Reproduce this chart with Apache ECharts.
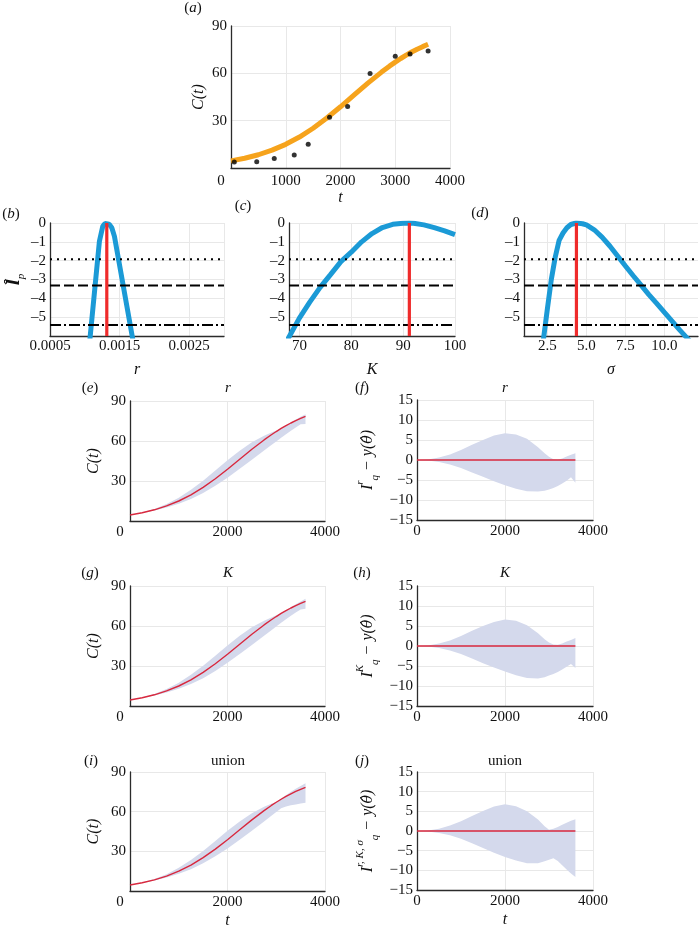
<!DOCTYPE html>
<html><head><meta charset="utf-8">
<script src="https://cdn.jsdelivr.net/npm/echarts@6/dist/echarts.min.js"></script>
<style>html,body{margin:0;padding:0;background:#fff}#c{width:699px;height:930px}</style>
</head><body><div id="c"></div><script>
// ---------------- data ----------------
const obsT = [60, 470, 790, 1155, 1410, 1800, 2130, 2540, 3000, 3270, 3600];
const obsC = [3.8, 4.0, 6.1, 8.2, 15.1, 32.2, 38.9, 59.9, 70.9, 72.3, 74.2];
const tGrid = [0,250,500,750,1000,1250,1500,1750,2000,2250,2500,2750,2900,3000,3100,3200,3300,3400,3500,3600];
const mleCurve = [4.5,6.2,8.4,11.3,15.0,19.6,25.2,31.7,38.8,46.3,53.8,60.8,64.7,67.1,69.4,71.5,73.5,75.3,76.9,78.4];
// prediction-interval bands, relative to the MLE curve
const rBandUpper = [0,0.15,0.6,1.4,2.5,3.8,5.0,6.1,6.7,6.4,5.3,3.2,1.7,0.8,0.2,0.05,0.4,0.9,1.3,1.7];
const rBandLower = [0,-0.1,-0.5,-1.1,-2.0,-3.1,-4.2,-5.3,-6.3,-7.2,-7.8,-7.9,-7.7,-7.4,-7.0,-6.5,-5.9,-5.2,-4.3,-5.7];
const kBandUpper = [0,0.15,0.6,1.4,2.5,3.8,5.0,6.0,6.6,6.3,5.2,3.2,1.7,0.9,0.35,0.3,0.6,1.1,1.5,2.0];
const kBandLower = [0,-0.1,-0.5,-1.1,-2.0,-3.1,-4.3,-5.4,-6.4,-7.3,-8.0,-8.1,-7.8,-7.4,-7.0,-6.5,-5.9,-5.2,-4.5,-5.5];
const uBandUpper = [0,0.15,0.6,1.4,2.5,3.8,5.1,6.2,6.8,6.3,5.0,2.9,1.2,0.3,0.6,1.0,1.6,2.1,2.6,3.0];
const uBandLower = [0,-0.1,-0.5,-1.1,-2.0,-3.1,-4.3,-5.5,-6.6,-7.5,-8.2,-8.2,-7.7,-7.3,-6.9,-7.6,-8.7,-9.8,-10.8,-11.7];
// profile likelihoods
const profRx = [0.00107,0.00121,0.001258,0.001290,0.001316,0.001350,0.001388,0.001426,0.001700];
const profRy = [-6.3,-0.97,-0.18,-0.03,0,-0.06,-0.25,-0.71,-6.4];
const profKx = [67,68,70,72,74,76,78,80,82,84,86,88,90,91.2,92,94,96,98,100];
const profKy = [-6.6,-6.05,-5.05,-4.2,-3.42,-2.74,-2.05,-1.55,-1.0,-0.56,-0.24,-0.07,-0.01,0,-0.01,-0.1,-0.25,-0.42,-0.62];
const profSx = [2.2,2.25,2.5,2.75,3.0,3.25,3.5,3.75,4.0,4.35,4.75,5.0,5.5,6.0,6.5,7.0,7.5,8.0,8.5,9.0,9.5,10.0,10.5,11.0,11.5,12.0];
const profSy = [-6.7,-6.15,-4.55,-3.0,-1.82,-0.92,-0.53,-0.25,-0.08,0,-0.04,-0.1,-0.36,-0.75,-1.22,-1.75,-2.28,-2.8,-3.3,-3.8,-4.27,-4.75,-5.22,-5.7,-6.15,-6.6];
const mleR = 0.001316, mleK = 91.2, mleSigma = 4.36;
const thresholds = [-1.92, -3.32, -5.41];
const tickK = [70, 80, 90, 100];
const tickS = [2.5, 5.0, 7.5, 10.0];

// ---------------- style ----------------
const FONT = '"Liberation Serif","DejaVu Serif",serif';
const TXT = '#111';
const BAND = '#d4d9ec';
const RED_LINE = '#d8283e';
const RED_MLE = '#ef2b2b';
const BLUE = '#1b9ad6';
const ORANGE = '#f6a31c';
const AXIS = '#2b2b2b';
const GRIDC = '#e8e8e8';

const grids = [
  {left:231, top:26, width:219, height:142},  // a
  {left:50,  top:223, width:174, height:113}, // b
  {left:289, top:223, width:166, height:113}, // c
  {left:524, top:223, width:174, height:113}, // d
  {left:130, top:401, width:195, height:120}, // e
  {left:417, top:400, width:176, height:120}, // f
  {left:130, top:586, width:195, height:120}, // g
  {left:417, top:586, width:176, height:120}, // h
  {left:130, top:772, width:195, height:119}, // i
  {left:417, top:772, width:176, height:118}  // j
];

function axis(gi, o) {
  const lbl = Object.assign({color:TXT, fontFamily:FONT, fontSize:15, margin:4, formatter: v => String(v)}, o.label || {});
  const a = {
    gridIndex: gi, type:'value', min:o.min, max:o.max,
    axisLine:{show:true, onZero:false, lineStyle:{color:AXIS, width:1.3}},
    axisTick:{show:false},
    splitLine:{show:true, lineStyle:{color:GRIDC, width:1}},
    axisLabel: lbl,
    name: o.name || '', nameLocation:'middle', nameGap: o.nameGap || 20,
    nameTextStyle: Object.assign({fontFamily:FONT, fontSize:16, color:TXT, fontStyle:'italic'}, o.nameStyle || {})
  };
  if (o.interval != null) a.interval = o.interval;
  if (o.custom) { a.axisTick.customValues = o.custom; a.axisLabel.customValues = o.custom; }
  return a;
}
const zeroShift = {
  formatter: v => v === 0 ? '{z|0}' : String(v),
  rich: {z: {padding:[0,20,0,0], fontFamily:FONT, fontSize:15, color:TXT}}
};
const minusFmt = v => String(v).replace('-', '\u2212');
const dashFmt = v => String(v).replace('-', '\u2013');
const noMin = (fmt) => ({formatter: fmt, showMinLabel:false});

const cName = {name:'C(t)', nameGap:28};
const resName = (sup) => ({
  name: '{I|I}{sup|' + sup + '}{sub|q}{n| \u2212 y(}{th|θ\u0302}{n|)}',
  nameGap: 36,
  nameStyle: {rich:{
    I:{fontFamily:FONT, fontSize:16, fontStyle:'italic', color:TXT, lineHeight:26},
    sup:{fontFamily:FONT, fontSize:11, fontStyle:'italic', color:TXT, lineHeight:13, verticalAlign:'top'},
    sub:{fontFamily:FONT, fontSize:11, fontStyle:'italic', color:TXT, lineHeight:13, verticalAlign:'bottom'},
    n:{fontFamily:FONT, fontSize:16, fontStyle:'italic', color:TXT, lineHeight:26},
    th:{fontFamily:'"DejaVu Serif",serif', fontSize:14, fontStyle:'italic', color:TXT, lineHeight:26}
  }}
});

const xAxes = [
  axis(0, {min:0, max:4000, interval:1000, label:Object.assign({margin:6}, zeroShift), name:'t', nameGap:22}),
  axis(1, {min:0.0005, max:0.003, interval:0.001, label:{formatter:v=>v.toFixed(4), margin:3}, name:'r', nameGap:26}),
  axis(2, {min:68, max:100, custom:tickK, label:{margin:3}, name:'K', nameGap:26}),
  axis(3, {min:1, max:12.15, custom:tickS, label:{formatter:v=>v.toFixed(1), margin:3}, name:'σ', nameGap:26}),
  axis(4, {min:0, max:4000, interval:2000, label:zeroShift}),
  axis(5, {min:0, max:4000, interval:2000}),
  axis(6, {min:0, max:4000, interval:2000, label:zeroShift}),
  axis(7, {min:0, max:4000, interval:2000}),
  axis(8, {min:0, max:4000, interval:2000, label:zeroShift, name:'t', nameGap:22}),
  axis(9, {min:0, max:4000, interval:2000, name:'t', nameGap:22})
];
const profYName = {
  name:'{l|l\u0302}{p|p}', nameGap:22,
  nameStyle:{rich:{
    l:{fontFamily:'"DejaVu Serif",serif', fontSize:16, fontStyle:'italic', fontWeight:'bold', color:TXT, lineHeight:24},
    p:{fontFamily:FONT, fontSize:11, fontStyle:'italic', color:TXT, lineHeight:12, verticalAlign:'bottom'}
  }}
};
const yAxes = [
  axis(0, Object.assign({min:0, max:90, interval:30, label:noMin(v=>String(v))}, cName, {nameGap:24})),
  axis(1, Object.assign({min:-6, max:0, interval:1, label:noMin(dashFmt)}, profYName)),
  axis(2, {min:-6, max:0, interval:1, label:noMin(dashFmt)}),
  axis(3, {min:-6, max:0, interval:1, label:noMin(dashFmt)}),
  axis(4, Object.assign({min:0, max:90, interval:30, label:noMin(v=>String(v))}, cName)),
  axis(5, Object.assign({min:-15, max:15, interval:5, label:{formatter:minusFmt}}, resName('r'))),
  axis(6, Object.assign({min:0, max:90, interval:30, label:noMin(v=>String(v))}, cName)),
  axis(7, Object.assign({min:-15, max:15, interval:5, label:{formatter:minusFmt}}, resName('K'))),
  axis(8, Object.assign({min:0, max:90, interval:30, label:noMin(v=>String(v))}, cName)),
  axis(9, Object.assign({min:-15, max:15, interval:5, label:{formatter:minusFmt}}, resName('r, K, σ')))
];

// ---------------- series ----------------
const zip = (xs, ys) => xs.map((x, i) => [x, ys[i]]);
function lineS(gi, data, color, width, z, type) {
  return {type:'line', xAxisIndex:gi, yAxisIndex:gi, data, showSymbol:false, symbol:'none',
    silent:true, clip:true, z: z || 2, animation:false,
    lineStyle:{color, width, type: type || 'solid', cap:'butt'}};
}
function bandS(gi, base, up, lo) {
  return {type:'custom', xAxisIndex:gi, yAxisIndex:gi, data:[[0,0]], clip:true, silent:true, z:1, animation:false,
    renderItem: (params, api) => {
      const pts = [];
      for (let i = 0; i < tGrid.length; i++) pts.push(api.coord([tGrid[i], base[i] + up[i]]));
      for (let i = tGrid.length - 1; i >= 0; i--) pts.push(api.coord([tGrid[i], base[i] + lo[i]]));
      return {type:'polygon', shape:{points:pts}, style:{fill:BAND}};
    }};
}
const zeroLine = mleCurve.map(v => v - v);
const series = [];
// (a)
series.push(lineS(0, zip(tGrid, mleCurve), ORANGE, 5, 2));
series.push({type:'scatter', xAxisIndex:0, yAxisIndex:0, data:zip(obsT, obsC), symbolSize:5,
  itemStyle:{color:'#000'}, z:3, silent:true, animation:false});
// profiles
const thrTypes = [[2,5], [10,4], [11,3,2,3]];
function profilePanel(gi, xs, ys, mle, xmin, xmax) {
  series.push(lineS(gi, zip(xs, ys), BLUE, 5, 2));
  thresholds.forEach((th, k) => series.push(lineS(gi, [[xmin, th], [xmax, th]], '#000', 2, 3, thrTypes[k])));
  series.push(lineS(gi, [[mle, -6], [mle, 0]], RED_MLE, 3.2, 4));
}
profilePanel(1, profRx, profRy, mleR, 0.0005, 0.003);
profilePanel(2, profKx, profKy, mleK, 68, 100);
profilePanel(3, profSx, profSy, mleSigma, 1, 12.15);
// bands
const bandSets = [[rBandUpper, rBandLower], [kBandUpper, kBandLower], [uBandUpper, uBandLower]];
bandSets.forEach((b, k) => {
  const gL = 4 + 2 * k, gR = 5 + 2 * k;
  series.push(bandS(gL, mleCurve, b[0], b[1]));
  series.push(lineS(gL, zip(tGrid, mleCurve), RED_LINE, 1.4, 3));
  series.push(bandS(gR, zeroLine, b[0], b[1]));
  series.push(lineS(gR, zip(tGrid, zeroLine), RED_LINE, 1.6, 3));
});

// ---------------- panel titles ----------------
function txt(x, y, text, italic) {
  return {type:'text', x, y, silent:true, z:10, style:{
    text, fill:TXT, fontFamily:FONT, fontSize:15, fontStyle: italic ? 'italic' : 'normal',
    align:'center', verticalAlign:'middle',
    rich:{i:{fontFamily:FONT, fontSize:15, fontStyle:'italic', fill:TXT}}
  }};
}
const graphics = [
  txt(193, 8, '({i|a})'), txt(11, 214, '({i|b})'), txt(243, 206, '({i|c})'), txt(480, 213, '({i|d})'),
  txt(90, 388, '({i|e})'), txt(362, 388, '({i|f})'), txt(90, 573, '({i|g})'), txt(362, 573, '({i|h})'),
  txt(91, 761, '({i|i})'), txt(362, 761, '({i|j})'),
  txt(228, 388, 'r', true), txt(505, 388, 'r', true),
  txt(228, 573, 'K', true), txt(505, 573, 'K', true),
  txt(228, 761, 'union'), txt(505, 761, 'union')
];

const chart = echarts.init(document.getElementById('c'), null, {renderer:'canvas'});
chart.setOption({
  animation:false,
  backgroundColor:'#fff',
  grid: grids,
  xAxis: xAxes,
  yAxis: yAxes,
  series,
  graphic: graphics
});
</script></body></html>
